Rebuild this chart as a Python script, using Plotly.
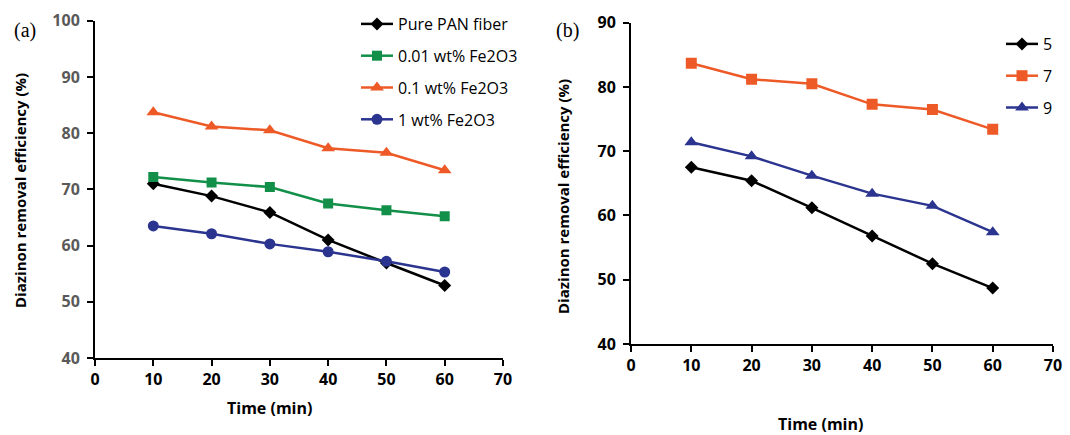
import plotly.graph_objects as go

time = [10, 20, 30, 40, 50, 60]

# Panel (a)
pure_pan = [71.0, 68.8, 65.9, 61.0, 56.9, 52.9]
fe_001 = [72.2, 71.2, 70.4, 67.5, 66.3, 65.2]
fe_01 = [83.7, 81.2, 80.5, 77.3, 76.5, 73.4]
fe_1 = [63.5, 62.1, 60.3, 58.9, 57.2, 55.3]

# Panel (b)
ph5 = [67.5, 65.4, 61.2, 56.8, 52.5, 48.7]
ph7 = [83.7, 81.2, 80.5, 77.3, 76.5, 73.4]
ph9 = [71.4, 69.2, 66.2, 63.4, 61.5, 57.4]

names_a = ["Pure PAN fiber", "0.01 wt% Fe2O3", "0.1 wt% Fe2O3", "1 wt% Fe2O3"]
names_b = ["5", "7", "9"]

BLACK = "#000000"
GREEN = "#12904A"
ORANGE = "#EE5A27"
BLUE = "#2B3590"

FONT = "Open Sans"

fig = go.Figure()

series_a = [
    (pure_pan, names_a[0], BLACK, "diamond", 10),
    (fe_001, names_a[1], GREEN, "square", 10),
    (fe_01, names_a[2], ORANGE, "triangle-up", 12),
    (fe_1, names_a[3], BLUE, "circle", 11),
]
for i, (vals, nm, col, sym, sz) in enumerate(series_a):
    fig.add_trace(go.Scatter(
        x=time, y=vals, name=nm, mode="lines+markers",
        line=dict(color=col, width=2.5),
        marker=dict(color=col, symbol=sym, size=sz),
        xaxis="x", yaxis="y", legend="legend", legendgroup=f"a{i}",
    ))

series_b = [
    (ph5, names_b[0], BLACK, "diamond", 10),
    (ph7, names_b[1], ORANGE, "square", 11),
    (ph9, names_b[2], BLUE, "triangle-up", 12),
]
for i, (vals, nm, col, sym, sz) in enumerate(series_b):
    fig.add_trace(go.Scatter(
        x=time, y=vals, name=nm, mode="lines+markers",
        line=dict(color=col, width=2.5),
        marker=dict(color=col, symbol=sym, size=sz),
        xaxis="x2", yaxis="y2", legend="legend2", legendgroup=f"b{i}",
    ))

W, H = 1070, 435

def px_x(p):
    return p / W

def px_y(p):
    return 1 - p / H

axis_common = dict(
    showline=True, linecolor="black", linewidth=2,
    ticks="outside", ticklen=6, tickwidth=2, tickcolor="black",
    showgrid=False, zeroline=False, automargin=False,
)

fig.update_layout(
    width=W, height=H,
    margin=dict(l=0, r=0, t=0, b=0),
    paper_bgcolor="white", plot_bgcolor="white",
    showlegend=True,
    xaxis=dict(domain=[px_x(95), px_x(503)], range=[0, 70], dtick=10,
               tickfont=dict(family=FONT, size=16, color="black", weight="bold"),
               anchor="y", **axis_common),
    yaxis=dict(domain=[px_y(358), px_y(20.7)], range=[40, 100], dtick=10,
               tickfont=dict(family=FONT, size=16, color="#595959", weight="bold"),
               anchor="x", ticklabelstandoff=4, **axis_common),
    xaxis2=dict(domain=[px_x(631), px_x(1053)], range=[0, 70], dtick=10,
                tickfont=dict(family=FONT, size=16, color="black", weight="bold"),
                anchor="y2", **axis_common),
    yaxis2=dict(domain=[px_y(344), px_y(22.7)], range=[40, 90], dtick=10,
                tickfont=dict(family=FONT, size=16, color="black", weight="bold"),
                anchor="x2", ticklabelstandoff=4, **axis_common),
    legend=dict(x=px_x(356), y=px_y(7), xanchor="left", yanchor="top",
                font=dict(family=FONT, size=16, color="black"),
                bgcolor="rgba(0,0,0,0)", tracegroupgap=8, itemwidth=32),
    legend2=dict(x=px_x(1001), y=px_y(27), xanchor="left", yanchor="top",
                 font=dict(family=FONT, size=16, color="black"),
                 bgcolor="rgba(0,0,0,0)", tracegroupgap=8, itemwidth=32),
    annotations=[
        dict(text="(a)", x=px_x(12), y=px_y(30), xref="paper", yref="paper",
             xanchor="left", yanchor="middle", showarrow=False,
             font=dict(family="Liberation Serif", size=20, color="black")),
        dict(text="(b)", x=px_x(554), y=px_y(30), xref="paper", yref="paper",
             xanchor="left", yanchor="middle", showarrow=False,
             font=dict(family="Liberation Serif", size=20, color="black")),
        dict(text="<b>Time (min)</b>", x=px_x(269), y=px_y(408), xref="paper", yref="paper",
             xanchor="center", yanchor="middle", showarrow=False,
             font=dict(family=FONT, size=16, color="black")),
        dict(text="<b>Time (min)</b>", x=px_x(820), y=px_y(424), xref="paper", yref="paper",
             xanchor="center", yanchor="middle", showarrow=False,
             font=dict(family=FONT, size=16, color="black")),
        dict(text="<b>Diazinon removal efficiency (%)</b>", x=px_x(20), y=px_y(191),
             xref="paper", yref="paper", xanchor="center", yanchor="middle",
             showarrow=False, textangle=-90,
             font=dict(family=FONT, size=15, color="black")),
        dict(text="<b>Diazinon removal efficiency (%)</b>", x=px_x(563), y=px_y(197),
             xref="paper", yref="paper", xanchor="center", yanchor="middle",
             showarrow=False, textangle=-90,
             font=dict(family=FONT, size=15, color="black")),
    ],
)

fig.write_html("out.html", config={"displayModeBar": False},
               post_script="document.body.style.margin='0';document.body.style.overflow='hidden';")
